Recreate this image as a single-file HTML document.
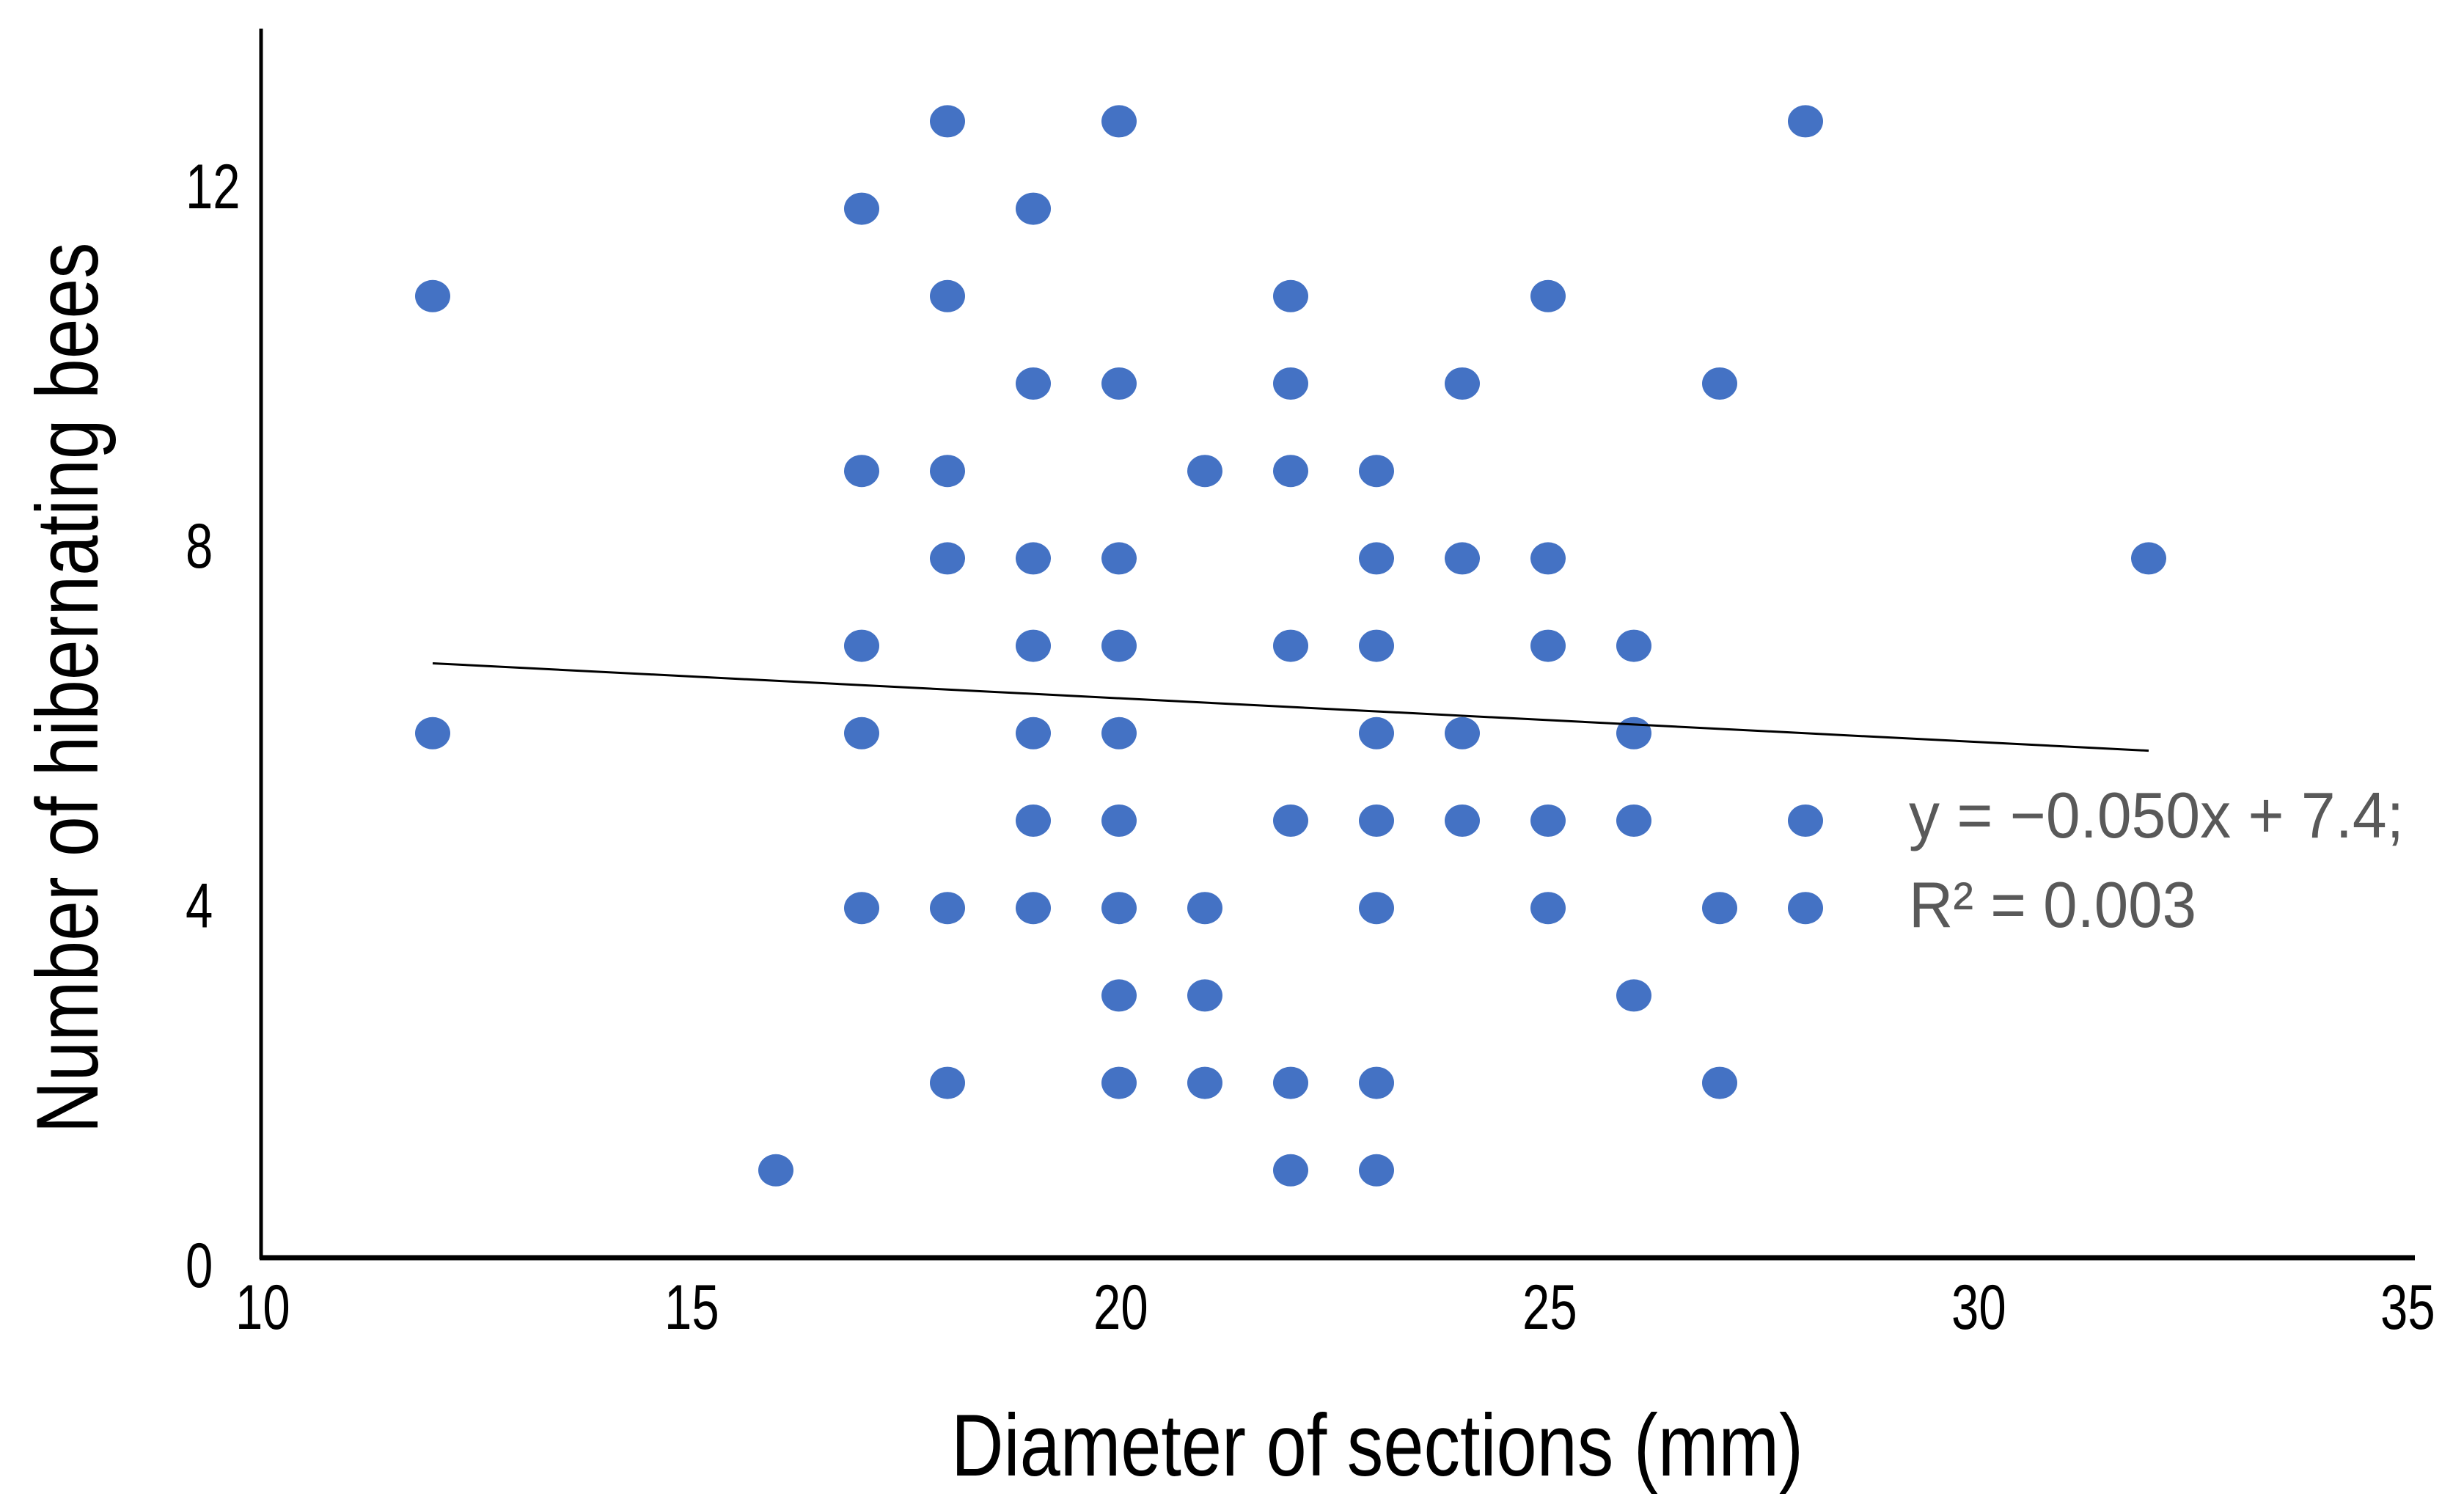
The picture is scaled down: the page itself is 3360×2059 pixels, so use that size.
<!DOCTYPE html>
<html><head><meta charset="utf-8"><style>
html,body{margin:0;padding:0;background:#fff;}
svg{display:block;}
text{font-family:"Liberation Sans",sans-serif;}
</style></head><body>
<svg id="chart" width="3360" height="2059" viewBox="0 0 3360 2059" xmlns="http://www.w3.org/2000/svg">
<g id="grid"></g>
<line x1="356" y1="39" x2="356" y2="1717" stroke="#000" stroke-width="5"/>
<line x1="354" y1="1715" x2="3293" y2="1715" stroke="#000" stroke-width="7"/>
<g id="xticks"></g>
<g id="yticks"></g>
<g id="pts"></g>
<line id="trend" stroke="#000" stroke-width="3"/>
<text x="2603" y="1142" font-size="88" fill="#595959" textLength="675" lengthAdjust="spacingAndGlyphs">y = −0.050x + 7.4;</text>
<text x="2603" y="1264" font-size="88" fill="#595959" textLength="392" lengthAdjust="spacingAndGlyphs">R² = 0.003</text>
<text x="1878" y="2012" font-size="120" text-anchor="middle" textLength="1162" lengthAdjust="spacingAndGlyphs">Diameter of sections (mm)</text>
<text transform="translate(133,938) rotate(-90)" font-size="120" text-anchor="middle" textLength="1215" lengthAdjust="spacingAndGlyphs">Number of hibernating bees</text>
</svg>
<script>
const xVals=[18,20,28,17,19,12,18,22,25,19,20,22,24,27,17,18,21,22,23,18,19,20,23,24,25,32,17,19,20,22,23,25,26,12,17,19,20,23,24,26,19,20,22,23,24,25,26,28,17,18,19,20,21,23,25,27,28,20,21,26,18,20,21,22,23,27,16,22,23];
const yVals=[13,13,13,12,12,11,11,11,11,10,10,10,10,10,9,9,9,9,9,8,8,8,8,8,8,8,7,7,7,7,7,7,7,6,6,6,6,6,6,6,5,5,5,5,5,5,5,5,4,4,4,4,4,4,4,4,4,3,3,3,2,2,2,2,2,2,1,1,1];
const xTicks=[10,15,20,25,30,35];
const yTicks=[0,4,8,12];
const slope=-0.050, intercept=7.4, trendX=[12,32];
const NS="http://www.w3.org/2000/svg";
const X=v=>356+(v-10)*117.0;
const Y=v=>1715-v*119.2;
const YL=v=>1724-v*122.6;
const mk=(t,p,a)=>{const e=document.createElementNS(NS,t);for(const k in a)e.setAttribute(k,a[k]);p.appendChild(e);return e;};
const xg=document.getElementById('xticks');
xTicks.forEach(t=>{const e=mk('text',xg,{x:X(t)+3,y:1812,'font-size':86,'text-anchor':'middle',transform:`translate(${X(t)},0) scale(0.78,1) translate(${-X(t)},0)`});


e.textContent=t;});
const yg=document.getElementById('yticks');
yTicks.forEach(t=>{const e=mk('text',yg,{x:253,y:YL(t)+31,'font-size':86,'text-anchor':'start',transform:`translate(253,0) scale(0.78,1) translate(-253,0)`});


e.textContent=t;});
const pg=document.getElementById('pts');
xVals.forEach((x,i)=>{const c=mk('ellipse',pg,{cx:X(x),cy:Y(yVals[i]),rx:24,ry:22,fill:'#4472C4'});

});
const tl=document.getElementById('trend');
tl.setAttribute('x1',X(trendX[0]));tl.setAttribute('y1',Y(slope*trendX[0]+intercept));
tl.setAttribute('x2',X(trendX[1]));tl.setAttribute('y2',Y(slope*trendX[1]+intercept));
</script>
</body></html>
